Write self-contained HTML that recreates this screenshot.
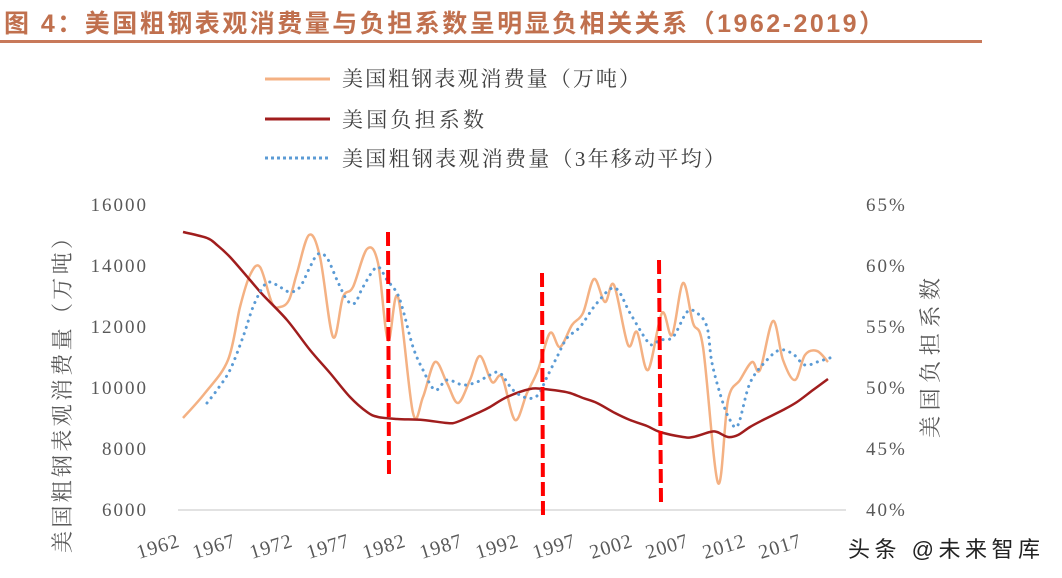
<!DOCTYPE html>
<html><head><meta charset="utf-8"><style>
body{margin:0;background:#fff;width:1062px;height:578px;overflow:hidden}
svg{display:block}
.t{font-family:"Liberation Serif","Noto Serif CJK SC",serif;fill:#595959}
.c{font-family:"Liberation Serif","Noto Serif CJK SC",serif;fill:#404040}
</style></head><body>
<svg id="s" width="1062" height="578" xmlns="http://www.w3.org/2000/svg">
<text x="4" y="32" font-family="'Liberation Sans','Noto Sans CJK SC',sans-serif" font-weight="bold" font-size="25" fill="#C0704E" textLength="880" lengthAdjust="spacing">图 4：美国粗钢表观消费量与负担系数呈明显负相关关系（1962-2019）</text>
<rect x="0" y="40" width="982" height="3" fill="#C8795A"/>
<line x1="265" y1="79" x2="330" y2="79" stroke="#F4B183" stroke-width="3"/>
<text class="c" x="342" y="86" font-size="21" textLength="298" lengthAdjust="spacing">美国粗钢表观消费量（万吨）</text>
<line x1="265" y1="119" x2="330" y2="119" stroke="#A01D1D" stroke-width="3"/>
<text class="c" x="342" y="127" font-size="21" textLength="142" lengthAdjust="spacing">美国负担系数</text>
<line x1="265" y1="158" x2="330" y2="158" stroke="#5B9BD5" stroke-width="3" stroke-dasharray="3 3"/>
<text class="c" x="342" y="166" font-size="21" textLength="383" lengthAdjust="spacing">美国粗钢表观消费量（3年移动平均）</text>
<g class="t" font-size="19" text-anchor="end" letter-spacing="2">
<text x="148" y="211">16000</text><text x="148" y="272">14000</text><text x="148" y="333">12000</text>
<text x="148" y="394">10000</text><text x="148" y="455">8000</text><text x="148" y="516">6000</text>
</g>
<g class="t" font-size="19" letter-spacing="2">
<text x="866" y="211">65%</text><text x="866" y="272">60%</text><text x="866" y="333">55%</text>
<text x="866" y="394">50%</text><text x="866" y="455">45%</text><text x="866" y="516">40%</text>
</g>
<text class="t" font-size="22" transform="translate(70,553) rotate(-90)" textLength="326" lengthAdjust="spacing">美国粗钢表观消费量（万吨）</text>
<text class="t" font-size="22" transform="translate(938,438) rotate(-90)" textLength="160" lengthAdjust="spacing">美国负担系数</text>
<g class="t" font-size="20" letter-spacing="1">
<text transform="translate(139,559) rotate(-17)">1962</text>
<text transform="translate(195,559) rotate(-17)">1967</text>
<text transform="translate(252,559) rotate(-17)">1972</text>
<text transform="translate(309,559) rotate(-17)">1977</text>
<text transform="translate(365,559) rotate(-17)">1982</text>
<text transform="translate(422,559) rotate(-17)">1987</text>
<text transform="translate(478,559) rotate(-17)">1992</text>
<text transform="translate(535,559) rotate(-17)">1997</text>
<text transform="translate(592,559) rotate(-17)">2002</text>
<text transform="translate(648,559) rotate(-17)">2007</text>
<text transform="translate(705,559) rotate(-17)">2012</text>
<text transform="translate(761,559) rotate(-17)">2017</text>
</g>
<line x1="178" y1="510" x2="846" y2="510" stroke="#D9D9D9" stroke-width="1.5"/>
<path id="o" fill="none" stroke="#F4B183" stroke-width="2.5"/>
<path id="r" fill="none" stroke="#A01D1D" stroke-width="2.5"/>
<path id="b" fill="none" stroke="#5B9BD5" stroke-width="3" stroke-dasharray="0.1 6.5" stroke-linecap="round"/>
<g stroke="#FF0000" stroke-width="4" stroke-dasharray="14 5">
<line x1="388" y1="232" x2="389" y2="477"/>
<line x1="542" y1="273" x2="543" y2="518"/>
<line x1="659" y1="260" x2="661" y2="503"/>
</g>
<text x="848" y="557" font-family="'Liberation Sans','Noto Sans CJK SC',sans-serif" font-size="22" fill="#222" textLength="192" lengthAdjust="spacing">头条 @未来智库</text>
</svg>
<script>
function path(p){let d="M"+p[0][0]+","+p[0][1];for(let i=0;i<p.length-1;i++){const a=p[i-1]||p[i],b=p[i],c=p[i+1],e=p[i+2]||c;
d+=" C"+(b[0]+(c[0]-a[0])/6)+","+(b[1]+(c[1]-a[1])/6)+" "+(c[0]-(e[0]-b[0])/6)+","+(c[1]-(e[1]-b[1])/6)+" "+c[0]+","+c[1];}return d;}
const O=[[183,418],[205,393],[228,360],[240,307],[250,275],[260,267],[272,303],[280,307],[289,300],[297,273],[309,235],[320,257],[333,337],[343,297],[353,287],[367,249],[378,263],[388,340],[398,297],[413,413],[423,397],[435,362],[447,383],[458,403],[470,380],[480,356],[492,382],[502,377],[515,420],[527,393],[538,370],[550,333],[560,347],[572,325],[583,313],[594,279],[605,302],[614,285],[628,345],[637,332],[648,370],[662,313],[672,335],[683,283],[693,323],[703,347],[718,483],[728,400],[740,380],[752,362],[760,370],[773,321],[783,360],[795,380],[805,355],[817,351],[828,362]];
const R=[[183,232],[207,238],[217,245],[230,257],[250,280],[263,295],[287,320],[310,350],[330,373],[350,397],[367,412],[378,417],[397,419],[423,420],[447,423],[457,422],[480,412],[490,407],[507,397],[530,389],[543,389],[560,391],[570,393],[583,398],[597,403],[615,413],[630,420],[647,426],[660,432],[683,437],[693,437],[710,432],[717,432],[728,437],[738,435],[750,427],[763,420],[783,410],[797,402],[813,390],[828,379]];
const B=[[207,403],[217,390],[230,370],[243,337],[253,307],[263,287],[270,282],[280,287],[290,292],[300,287],[310,267],[318,254],[327,258],[337,280],[347,300],[355,303],[363,287],[377,267],[387,280],[397,293],[403,310],[413,347],[423,370],[435,390],[447,380],[463,385],[477,382],[490,375],[500,373],[513,390],[527,398],[538,395],[547,377],[557,357],[567,338],[580,327],[597,303],[615,288],[630,313],[645,338],[652,345],[660,340],[673,337],[687,312],[697,313],[707,327],[712,363],[722,400],[730,420],[738,425],[750,383],[767,360],[780,350],[793,354],[805,365],[820,361],[836,356]];
document.getElementById("o").setAttribute("d",path(O));
document.getElementById("r").setAttribute("d",path(R));
document.getElementById("b").setAttribute("d",path(B));
</script>
</body></html>
